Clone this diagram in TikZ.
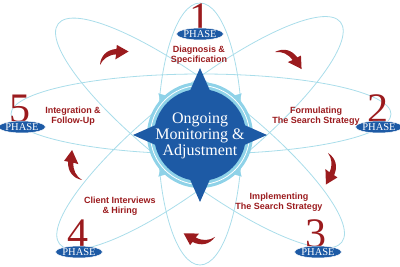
\documentclass[tikz,border=0pt]{standalone}
\usepackage{fontspec}
\setmainfont{Liberation Serif}
\newfontfamily\labelfont{Liberation Sans}
\usetikzlibrary{shapes.geometric}
\definecolor{orbit}{HTML}{A9DDEA}
\definecolor{darkblue}{HTML}{1D5AA5}
\definecolor{ringblue}{HTML}{8ED2E8}
\definecolor{phasered}{HTML}{9B1B1E}
\begin{document}
\begin{tikzpicture}[x=1pt,y=-1pt,
  orbitline/.style={draw=orbit, line width=0.8pt},
  badge/.style={ellipse, fill=darkblue, draw=white, line width=0.5pt,
    minimum width=42pt, minimum height=12pt, inner sep=0pt, text=white,
    font=\fontsize{10.5}{10.5}\selectfont},
  digit/.style={text=phasered, font=\fontsize{42}{42}\selectfont, inner sep=0pt, anchor=base},
  steplabel/.style={text=phasered, font=\labelfont\bfseries\fontsize{9}{10}\selectfont,
    align=center, inner sep=0pt},
  cyclearrow/.style={fill=phasered}]
\useasboundingbox (0,0) rectangle (400,267);
% orbits
\draw[orbitline] (200,134) ellipse [x radius=42, y radius=131];
\draw[orbitline] (201,114) ellipse [x radius=190, y radius=40];
\begin{scope}[shift={(200,133)}, rotate=-37.6]
  \draw[orbitline] (0,0) ellipse [x radius=179, y radius=45];
\end{scope}
\begin{scope}[shift={(200,133)}, rotate=38.3]
  \draw[orbitline] (0,0) ellipse [x radius=179, y radius=45];
\end{scope}
% compass
\begin{scope}[shift={(200,135)}]
  \foreach \a in {45,135,225,315}
    \fill[ringblue] (\a:59) -- (\a+9:46) -- (\a-9:46) -- cycle;
  \fill[ringblue] (0,0) circle [radius=53];
  \draw[white, line width=0.8pt] (0,0) circle [radius=49.5];
  \fill[darkblue] (0,0) circle [radius=46];
  \fill[darkblue] (0,-67) -- (20.5,-20.5) -- (67,0) -- (20.5,20.5) -- (0,67)
    -- (-20.5,20.5) -- (-67,0) -- (-20.5,-20.5) -- cycle;
\end{scope}
\node[text=white, align=center, inner sep=0pt, font=\fontsize{16}{16}\selectfont]
  (center) at (200,136) {Ongoing\\Monitoring \&\\Adjustment};
% arrows
\foreach \sx/\sy/\r [count=\i] in {100/65/2, 275/52/-56, 328/153/-117, 215/237/150, 82/180/85}{
  \begin{scope}[shift={(\sx,\sy)}, rotate=\r]
    \fill[cyclearrow] (0,0) .. controls (1,-9) and (7,-15) .. (17,-15.5)
      -- (17.5,-19.5) -- (29,-12.5) -- (15.5,-5) -- (16.5,-10)
      .. controls (9,-10) and (3,-6) .. (0,0) -- cycle;
  \end{scope}
}
% phase digits and badges
\node[digit] (d1) at (200,32) {1};
\node[digit] (d2) at (378,123) {2};
\node[digit] (d3) at (316,248) {3};
\node[digit] (d4) at (78,248) {4};
\node[digit] (d5) at (20,123) {5};
\node[badge] (b1) at (200,34) {PHASE};
\node[badge] (b2) at (379,127) {PHASE};
\node[badge] (b3) at (318,252) {PHASE};
\node[badge] (b4) at (79,252) {PHASE};
\node[badge] (b5) at (22,127) {PHASE};
% labels
\node[steplabel] (l1) at (199,55) {Diagnosis \&\\Specification};
\node[steplabel] (l2) at (316,116) {Formulating\\The Search Strategy};
\node[steplabel] (l3) at (279,202) {Implementing\\The Search Strategy};
\node[steplabel] (l4) at (120,206) {Client Interviews\\\& Hiring};
\node[steplabel] (l5) at (73,116) {Integration \&\\Follow-Up};
\end{tikzpicture}
\end{document}
